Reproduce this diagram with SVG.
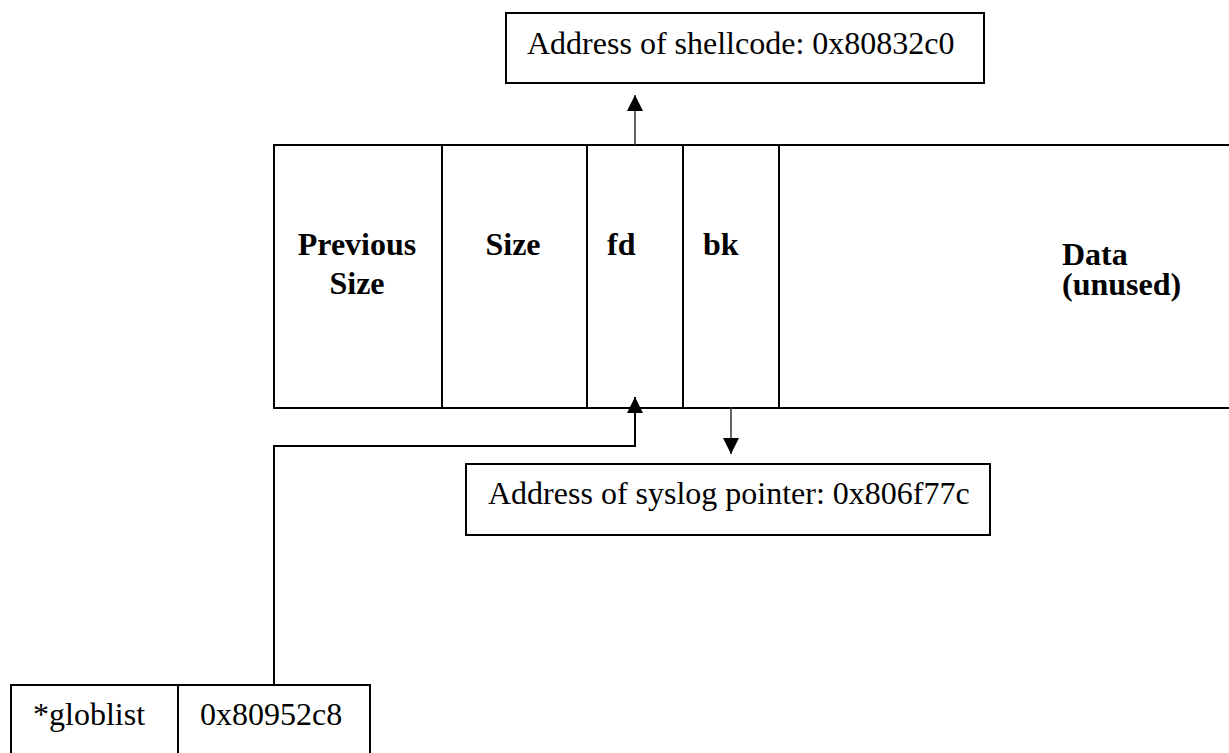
<svg xmlns="http://www.w3.org/2000/svg" width="1229" height="753" viewBox="0 0 1229 753">
<style>
.box{fill:#fff;stroke:#000;stroke-width:2}
.t{font-family:"Liberation Serif","Times New Roman",serif;font-size:32px;fill:#000}
.b{font-weight:bold}
.c{fill:none;stroke:#000;stroke-width:2}
.a{fill:none;stroke:#333;stroke-width:1.5}
</style>
<defs>
<marker id="ah" markerWidth="16" markerHeight="16" viewBox="0 0 16 16" refX="16" refY="8" orient="auto" markerUnits="userSpaceOnUse">
<path d="M0,0 L16,8 L0,16 Z" fill="#000"/>
</marker>
</defs>
<rect width="1229" height="753" fill="#fff"/>
<g id="chunk">
<rect class="box" x="274" y="145" width="980" height="263"/>
<line class="c" x1="442" y1="145" x2="442" y2="408"/>
<line class="c" x1="587" y1="145" x2="587" y2="408"/>
<line class="c" x1="683" y1="145" x2="683" y2="408"/>
<line class="c" x1="779" y1="145" x2="779" y2="408"/>
<text class="t b" x="357" y="255" text-anchor="middle">Previous</text>
<text class="t b" x="357" y="294" text-anchor="middle">Size</text>
<text class="t b" x="513" y="255" text-anchor="middle">Size</text>
<text class="t b" x="607" y="255">fd</text>
<text class="t b" x="703" y="255">bk</text>
<text class="t b" x="1062" y="265">Data</text>
<text class="t b" x="1062" y="295">(unused)</text>
</g>
<g id="shellcode">
<rect class="box" x="506" y="13" width="478" height="70"/>
<text class="t" x="527" y="54">Address of shellcode: 0x80832c0</text>
</g>
<g id="syslog">
<rect class="box" x="466" y="464" width="524" height="71"/>
<text class="t" x="488" y="504">Address of syslog pointer: 0x806f77c</text>
</g>
<g id="globlist">
<rect class="box" x="11" y="685" width="359" height="90"/>
<line class="c" x1="178" y1="685" x2="178" y2="760"/>
<text class="t" x="33" y="725">*globlist</text>
<text class="t" x="200" y="725">0x80952c8</text>
</g>
<g id="connectors">
<line class="a" x1="635" y1="145" x2="635" y2="95" marker-end="url(#ah)"/>
<path class="c" d="M274,685 V446 H635 V397" marker-end="url(#ah)"/>
<line class="a" x1="731" y1="407" x2="731" y2="454" marker-end="url(#ah)"/>
</g>
</svg>
